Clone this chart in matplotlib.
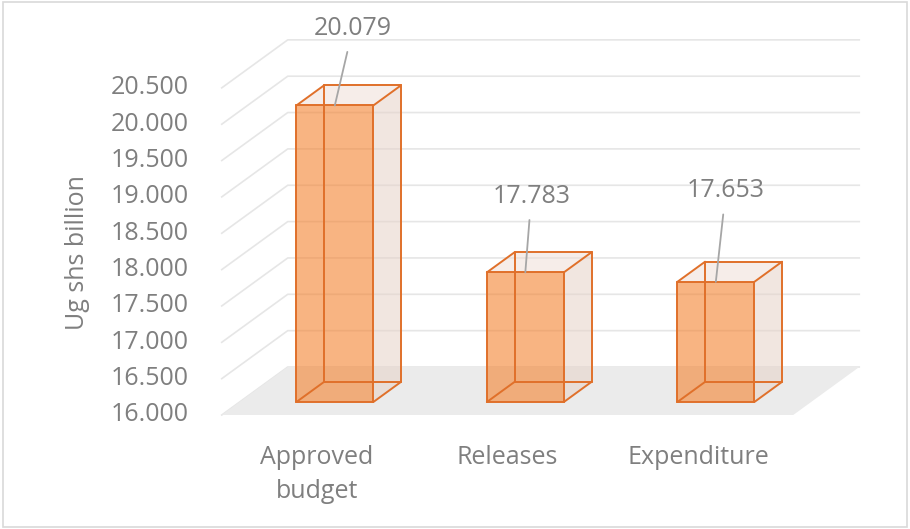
import matplotlib.pyplot as plt
from matplotlib.patches import Polygon, Rectangle

# data
categories = ["Approved\nbudget", "Releases", "Expenditure"]
values = [20.079, 17.783, 17.653]
value_labels = ["20.079", "17.783", "17.653"]
yticks = [16.0, 16.5, 17.0, 17.5, 18.0, 18.5, 19.0, 19.5, 20.0, 20.5]
ylabel = "Ug shs billion"

# layout (pixel mapping of the fake 3d frame)
W, H = 910, 529
CAT0_PX, CAT_STEP = 317, 190.5
BASE_PX, PX_PER_UNIT = 415, 72.7
BASE = 16.0
DX = 66 / CAT_STEP          # full depth offset in category units
DY = 48 / PX_PER_UNIT       # full depth offset in value units
D1, D2 = 0.27, 0.69         # bar depth range
HALF_W = 0.202
label_offsets = [(18, 77), (6, 76), (10, 91)]   # pixels

TXT = "#7F7F7F"
EDGE = "#E0702A"
plt.rcParams['font.family'] = ['Open Sans', 'DejaVu Sans']


def proj(x, y, d):
    return (x + d * DX, y + d * DY)


fig = plt.figure(figsize=(W / 100, H / 100), dpi=100)
ax = fig.add_axes([0, 0, 1, 1])
ax.set_xlim(-CAT0_PX / CAT_STEP, (W - CAT0_PX) / CAT_STEP)
ax.set_ylim(BASE - (H - BASE_PX) / PX_PER_UNIT, BASE + BASE_PX / PX_PER_UNIT)
ax.axis('off')

left, right = -0.5, len(categories) - 0.5

# gridlines on side wall and back wall
for t in yticks:
    p0 = proj(left, t, 0)
    p1 = proj(left, t, 1)
    p2 = proj(right, t, 1)
    ax.plot([p0[0], p1[0], p2[0]], [p0[1], p1[1], p2[1]],
            color="#E6E6E6", lw=1.2, zorder=1)
    ax.text(p0[0] - 0.175, t, f"{t:.3f}", ha='right', va='center',
            fontsize=18, color=TXT)

# floor
floor = Polygon([proj(left, BASE, 0), proj(left, BASE, 1),
                 proj(right, BASE, 1), proj(right, BASE, 0)],
                closed=True, facecolor="#EBEBEB", edgecolor='none', zorder=2)
ax.add_patch(floor)

# bars
for i, v in enumerate(values):
    c = {}
    for sx, xx in (('l', i - HALF_W), ('r', i + HALF_W)):
        for sy, yy in (('b', BASE), ('t', v)):
            for sd, dd in (('f', D1), ('k', D2)):
                c[sx + sy + sd] = proj(xx, yy, dd)
    # right side face
    ax.add_patch(Polygon([c['rbf'], c['rbk'], c['rtk'], c['rtf']],
                         facecolor="#E6D2C8", alpha=0.55, edgecolor='none', zorder=3))
    # top face
    ax.add_patch(Polygon([c['ltf'], c['rtf'], c['rtk'], c['ltk']],
                         facecolor="#EEDDD4", alpha=0.5, edgecolor='none', zorder=3))
    # front face
    ax.add_patch(Polygon([c['lbf'], c['rbf'], c['rtf'], c['ltf']],
                         facecolor="#F4822F", alpha=0.6, edgecolor='none', zorder=4))
    edges = [('lbf', 'rbf'), ('rbf', 'rtf'), ('rtf', 'ltf'), ('ltf', 'lbf'),
             ('lbk', 'rbk'), ('rbk', 'rtk'), ('rtk', 'ltk'), ('ltk', 'lbk'),
             ('lbf', 'lbk'), ('rbf', 'rbk'), ('rtf', 'rtk'), ('ltf', 'ltk')]
    for a, b in edges:
        ax.plot([c[a][0], c[b][0]], [c[a][1], c[b][1]], color=EDGE,
                lw=1.4, zorder=5, solid_capstyle='round')

    # data label with leader line
    top = proj(i, v, D1)
    ax.annotate(value_labels[i], xy=top, xytext=label_offsets[i],
                textcoords='offset pixels', ha='center', va='center',
                fontsize=18, color=TXT, zorder=6,
                arrowprops=dict(arrowstyle='-', color="#A6A6A6", lw=1.3,
                                shrinkA=6, shrinkB=0))

    # category label
    ax.annotate(categories[i], xy=(i, BASE), xytext=(0, -30),
                textcoords='offset pixels', ha='center', va='top',
                fontsize=18, color=TXT, linespacing=1.45)

# axis title
ax.text(-CAT0_PX / CAT_STEP + 78 / CAT_STEP, BASE + (BASE_PX - 253) / PX_PER_UNIT,
        ylabel, rotation=90, ha='center', va='center', fontsize=18, color=TXT)

# chart border
fig.patches.append(Rectangle((3 / W, 2 / H), 904 / W, 525 / H, transform=fig.transFigure,
                             fill=False, edgecolor="#D9D9D9", lw=1.2))

fig.savefig("out.png", dpi=100)
